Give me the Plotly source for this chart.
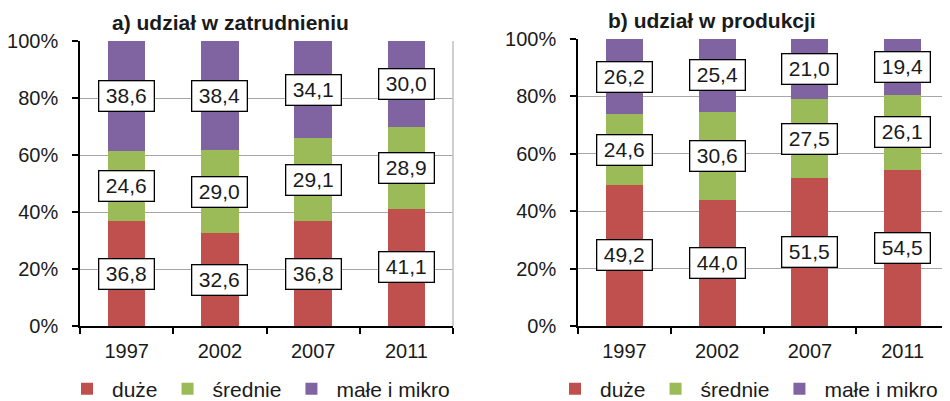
import plotly.graph_objects as go

years = ["1997", "2002", "2007", "2011"]
series_names = ["duże", "średnie", "małe i mikro"]
colors = ["#C0504D", "#9BBB59", "#8064A2"]

# a) udział w zatrudnieniu
emp_duze = [36.8, 32.6, 36.8, 41.1]
emp_srednie = [24.6, 29.0, 29.1, 28.9]
emp_male = [38.6, 38.4, 34.1, 30.0]

# b) udział w produkcji
prod_duze = [49.2, 44.0, 51.5, 54.5]
prod_srednie = [24.6, 30.6, 27.5, 26.1]
prod_male = [26.2, 25.4, 21.0, 19.4]

titles = ["a) udział w zatrudnieniu", "b) udział w produkcji"]
y_ticks = [0, 20, 40, 60, 80, 100]
y_tick_labels = ["0%", "20%", "40%", "60%", "80%", "100%"]

FONT = "Liberation Sans, Arial, sans-serif"
# page has an 8px body margin; figure sized so it ends at the window edge
OFF = 8
W, H = 950 - OFF, 401 - OFF


def px_x(p):
    return (p - OFF) / W


def px_y(p):
    return 1 - (p - OFF) / H


fig = go.Figure()

panels = [
    ([emp_duze, emp_srednie, emp_male], "x", "y", "legend"),
    ([prod_duze, prod_srednie, prod_male], "x2", "y2", "legend2"),
]

annotations = []
for data, xa, ya, leg in panels:
    base = [0.0] * len(years)
    for name, vals, col in zip(series_names, data, colors):
        fig.add_trace(go.Bar(
            x=years, y=vals, name=name, xaxis=xa, yaxis=ya,
            marker=dict(color=col, line=dict(width=0)),
            width=0.4, legend=leg, hoverinfo="skip",
        ))
        for i, v in enumerate(vals):
            annotations.append(dict(
                x=i, y=base[i] + v / 2, xref=xa, yref=ya,
                text=f"{v:.1f}".replace(".", ","),
                showarrow=False, xanchor="center", yanchor="middle",
                font=dict(family=FONT, size=21, color="#1a1a1a"),
                bgcolor="white", bordercolor="black", borderwidth=1.3,
                borderpad=2, width=50, height=25,
            ))
            base[i] += v

# titles
annotations.append(dict(x=px_x(230), y=px_y(23), xref="paper", yref="paper",
                        xanchor="center", yanchor="middle",
                        text="<b>" + titles[0] + "</b>", showarrow=False,
                        font=dict(family=FONT, size=21, color="#1a1a1a")))
annotations.append(dict(x=px_x(712), y=px_y(20), xref="paper", yref="paper",
                        xanchor="center", yanchor="middle",
                        text="<b>" + titles[1] + "</b>", showarrow=False,
                        font=dict(family=FONT, size=21, color="#1a1a1a")))

axis_font = dict(family=FONT, size=20, color="#1a1a1a")


def xaxis(domain, anchor):
    return dict(domain=domain, anchor=anchor, type="category",
                range=[-0.5, len(years) - 0.5], automargin=False,
                showline=True, linecolor="black", linewidth=1.5,
                ticks="outside", tickson="boundaries", ticklen=6,
                tickcolor="black", tickwidth=1.5, showgrid=False,
                tickfont=axis_font, ticklabelstandoff=6, fixedrange=True)


def yaxis(domain, anchor):
    return dict(domain=domain, anchor=anchor, range=[0, 100], automargin=False,
                tickvals=y_ticks, ticktext=y_tick_labels,
                showline=True, linecolor="black", linewidth=1.5,
                ticks="outside", ticklen=6, tickcolor="black", tickwidth=1.5,
                showgrid=True, gridcolor="#A6A6A6", gridwidth=1,
                zeroline=False, tickfont=axis_font, ticklabelstandoff=10,
                fixedrange=True)


shapes = [
    dict(type="line", xref="x domain", yref="y domain", x0=1, x1=1, y0=0, y1=1,
         line=dict(color="#BFBFBF", width=1.5)),
    dict(type="line", xref="x2 domain", yref="y2 domain", x0=1, x1=1, y0=0, y1=1,
         line=dict(color="#BFBFBF", width=1.5)),
]

legend_common = dict(orientation="h", xanchor="left", yanchor="middle",
                     font=dict(family=FONT, size=21, color="#1a1a1a"),
                     bgcolor="rgba(0,0,0,0)", itemclick=False, itemdoubleclick=False,
                     traceorder="normal", itemwidth=40)

fig.update_layout(
    width=W, height=H,
    margin=dict(l=0, r=0, t=0, b=0, autoexpand=False),
    paper_bgcolor="white", plot_bgcolor="white",
    barmode="stack",
    font=dict(family=FONT, size=21, color="#1a1a1a"),
    xaxis=xaxis([px_x(80), px_x(453)], "y"),
    yaxis=yaxis([px_y(326), px_y(41)], "x"),
    xaxis2=xaxis([px_x(578), px_x(949)], "y2"),
    yaxis2=yaxis([px_y(326), px_y(39)], "x2"),
    legend=dict(x=px_x(62), y=px_y(389), **legend_common),
    legend2=dict(x=px_x(550), y=px_y(389), **legend_common),
    annotations=annotations,
    shapes=shapes,
    showlegend=True,
)

fig.write_html("out.html")
